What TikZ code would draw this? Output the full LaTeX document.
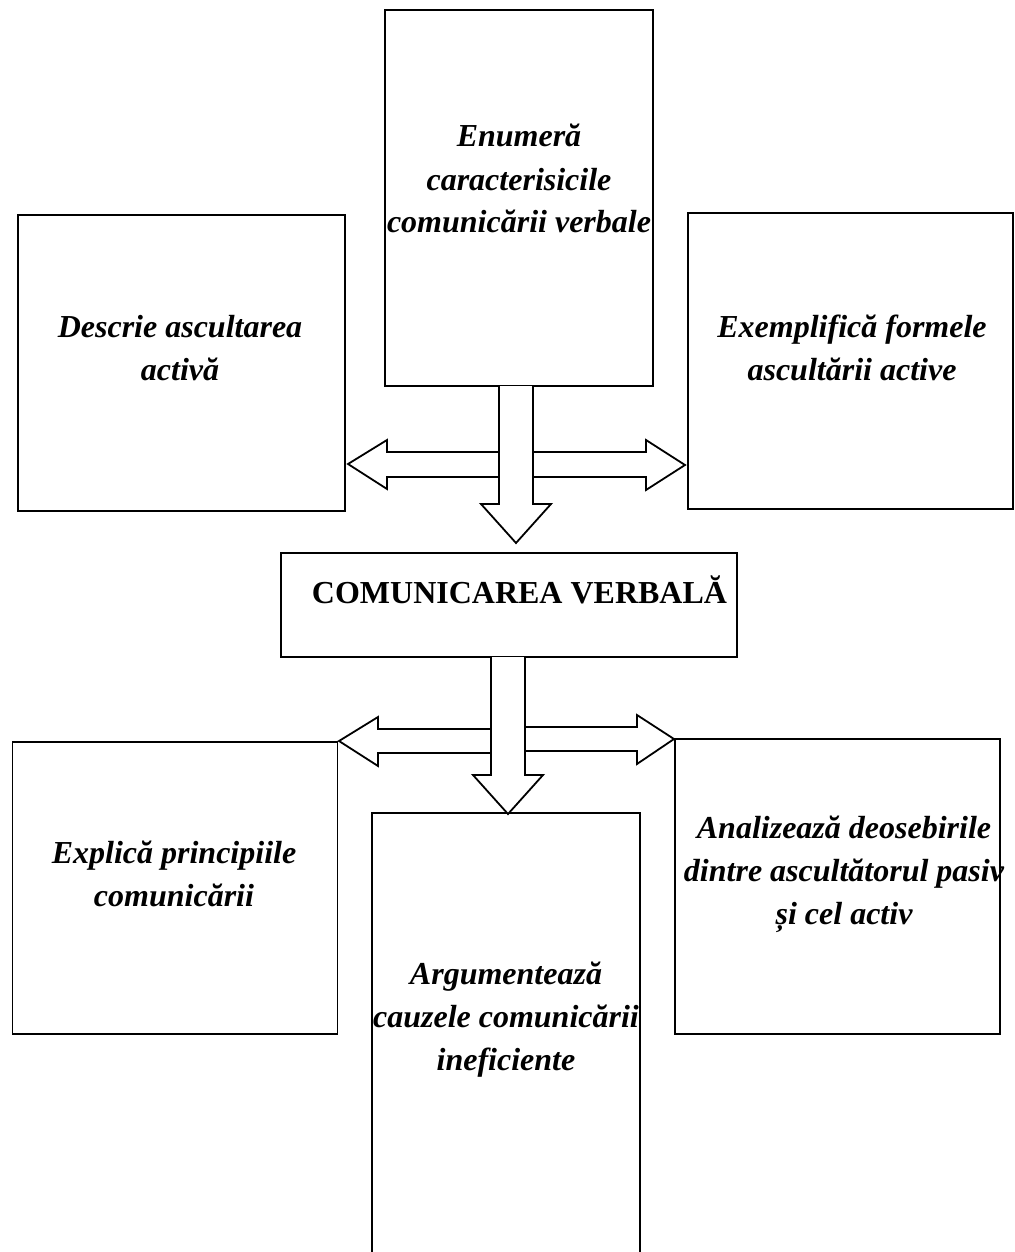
\documentclass[tikz,border=0pt]{standalone}
\usepackage{fontspec}
\setmainfont{Liberation Serif}
\begin{document}
\begin{tikzpicture}[x=1pt,y=-1pt,
    box/.style={draw,line width=1.8pt,inner sep=0pt},
    lbl/.style={align=center,anchor=base,inner sep=0pt,
      font=\fontsize{32}{43}\selectfont\bfseries\itshape},
    blockarrow/.style={draw,line width=1.8pt,fill=white,line join=miter}]
\useasboundingbox (0,0) rectangle (1014,1252);
% boxes
\node[box,minimum width=268,minimum height=376] (enum) at (519,198) {};
\node[box,minimum width=327,minimum height=296] (descr) at (181.5,363) {};
\node[box,minimum width=325,minimum height=296] (exempl) at (850.5,361) {};
\node[box,minimum width=456,minimum height=104] (center) at (509,605) {};
\node[box,minimum width=325,minimum height=292] (expl) at (175,888) {};
\node[box,minimum width=268,minimum height=500] (argum) at (506,1063) {};
\node[box,minimum width=325,minimum height=295] (anal) at (837.5,886.5) {};
% texts (base = last line)
\node[lbl] (enumtxt) at (519,233) {Enumeră\\caracterisicile\\comunicării verbale};
\node[lbl] (descrtxt) at (180,380) {Descrie ascultarea\\activă};
\node[lbl] (exempltxt) at (852,380) {Exemplifică formele\\ascultării active};
\node[lbl,font=\fontsize{32}{43}\selectfont\bfseries] (centertxt) at (519.5,603) {COMUNICAREA VERBALĂ};
\node[lbl] (expltxt) at (174,906) {Explică principiile\\comunicării};
\node[lbl] (argumtxt) at (506,1070) {Argumentează\\cauzele comunicării\\ineficiente};
\node[lbl] (analtxt) at (844,924) {Analizează deosebirile\\dintre ascultătorul pasiv\\și cel activ};
% arrows from the upper box
\draw[blockarrow] (505,452) -- (387,452) -- (387,440) -- (348,464) -- (387,489) -- (387,477) -- (505,477);
\draw[blockarrow] (527,452) -- (646,452) -- (646,440) -- (685,465) -- (646,490) -- (646,477) -- (527,477);
\draw[blockarrow] (499,386) -- (499,504) -- (481,504) -- (516,543) -- (551,504) -- (533,504) -- (533,386);
% arrows from the centre box
\draw[blockarrow] (497,729) -- (378,729) -- (378,717) -- (339,741) -- (378,766) -- (378,753) -- (497,753);
\draw[blockarrow] (519,727) -- (637,727) -- (637,715) -- (674,739) -- (637,764) -- (637,751) -- (519,751);
\draw[blockarrow] (491,657) -- (491,775) -- (473,775) -- (508,814) -- (543,775) -- (525,775) -- (525,657);
\end{tikzpicture}
\end{document}
